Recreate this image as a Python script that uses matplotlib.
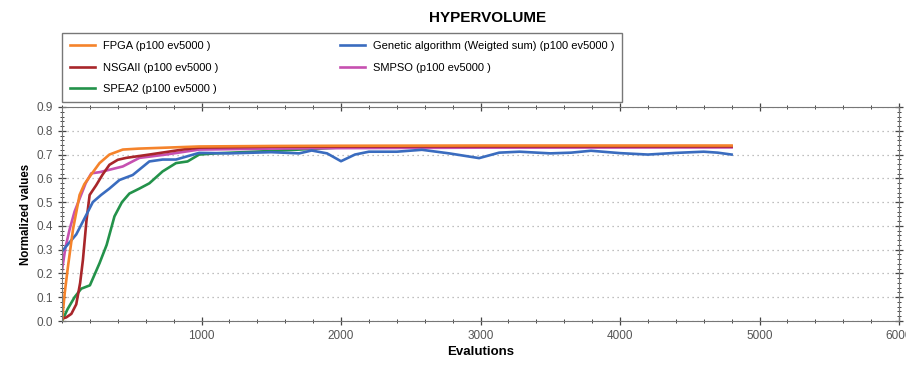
from matplotlib import pyplot as plt
from matplotlib.ticker import MultipleLocator, FixedLocator
import numpy as np

plt.rcParams['font.family'] = ['Liberation Sans', 'DejaVu Sans']

# datos (evaluaciones, hipervolumen normalizado)
fpga_x = [0, 20, 43, 79, 126, 160, 198, 269, 340, 436, 550, 745, 983, 1500, 2000, 3000, 4000, 4800]
fpga_y = [0.0, 0.12, 0.23, 0.386, 0.53, 0.575, 0.607, 0.664, 0.70, 0.721, 0.725, 0.729, 0.734, 0.736, 0.737, 0.738, 0.738, 0.738]

nsga_x = [0, 30, 67, 102, 130, 150, 175, 198, 245, 290, 340, 400, 460, 626, 864, 983, 1500, 2500, 4800]
nsga_y = [0.01, 0.015, 0.03, 0.07, 0.16, 0.257, 0.42, 0.53, 0.571, 0.615, 0.657, 0.678, 0.686, 0.70, 0.721, 0.729, 0.733, 0.734, 0.734]

spea_x = [0, 40, 90, 138, 200, 269, 320, 376, 430, 483, 555, 626, 721, 817, 900, 983, 1100, 1500, 2000, 3000, 4800]
spea_y = [0.0, 0.05, 0.1, 0.136, 0.15, 0.243, 0.32, 0.44, 0.50, 0.536, 0.557, 0.579, 0.629, 0.664, 0.671, 0.70, 0.705, 0.715, 0.73, 0.733, 0.733]

ga_x = [0, 102, 160, 221, 280, 340, 412, 507, 626, 721, 817, 983, 1200, 1500, 1700, 1790, 1900, 2000, 2100, 2200,
        2400, 2580, 2775, 2990, 3134, 3280, 3500, 3650, 3792, 4000, 4200, 4400, 4600, 4700, 4800]
ga_y = [0.293, 0.364, 0.43, 0.50, 0.53, 0.557, 0.593, 0.614, 0.671, 0.679, 0.679, 0.707, 0.705, 0.71, 0.705, 0.717, 0.705, 0.672, 0.700, 0.712,
        0.712, 0.72, 0.705, 0.685, 0.708, 0.712, 0.705, 0.708, 0.716, 0.706, 0.700, 0.707, 0.712, 0.708, 0.700]

smpso_x = [0, 25, 55, 90, 126, 170, 210, 270, 340, 436, 555, 745, 983, 1500, 2000, 3000, 4800]
smpso_y = [0.214, 0.31, 0.386, 0.46, 0.514, 0.58, 0.621, 0.626, 0.636, 0.65, 0.686, 0.70, 0.721, 0.725, 0.727, 0.729, 0.73]

series = [
    ('FPGA (p100 ev5000 )', fpga_x, fpga_y, '#f5832b'),
    ('NSGAII (p100 ev5000 )', nsga_x, nsga_y, '#a8262a'),
    ('SPEA2 (p100 ev5000 )', spea_x, spea_y, '#23924a'),
    ('Genetic algorithm (Weigted sum) (p100 ev5000 )', ga_x, ga_y, '#3a6cbf'),
    ('SMPSO (p100 ev5000 )', smpso_x, smpso_y, '#c650b0'),
]
# orden de dibujo: el naranja queda encima
orden_dibujo = [2, 4, 1, 3, 0]

fig = plt.figure(figsize=(9.06, 3.65), dpi=100)
ax = fig.add_axes([62 / 906, 1 - 321 / 365, (899 - 62) / 906, (321 - 107) / 365])

lineas = {}
for i in orden_dibujo:
    nombre, xs, ys, color = series[i]
    lineas[i], = ax.plot(xs, ys, color=color, lw=1.9, label=nombre, solid_joinstyle='round')

ax.set_xlim(0, 6000)
ax.set_ylim(0, 0.9)
ax.xaxis.set_major_locator(FixedLocator([1000, 2000, 3000, 4000, 5000, 6000]))
ax.xaxis.set_minor_locator(MultipleLocator(200))
ax.yaxis.set_major_locator(MultipleLocator(0.1))
ax.yaxis.set_minor_locator(MultipleLocator(0.02))
ax.yaxis.set_major_formatter(plt.FormatStrFormatter('%.1f'))
ax.tick_params(which='both', direction='inout', top=True, right=True, colors='#444444',
               labelcolor='#555555', labelsize=8.5, labeltop=False, labelright=False)
ax.tick_params(which='major', length=6, width=0.9)
ax.tick_params(which='minor', length=3, width=0.7)
ax.grid(axis='y', linestyle=(0, (1, 3)), color='#aaaaaa', lw=0.9)
for s in ax.spines.values():
    s.set_color('#777777')

ax.set_xlabel('Evalutions', fontsize=9.5, fontweight='bold', labelpad=3)
ax.set_ylabel('Normalized values', fontsize=8.3, fontweight='bold', labelpad=3)
fig.text(488 / 906, 1 - 18 / 365, 'HYPERVOLUME', ha='center', va='center', fontsize=11, fontweight='bold')

handles = [lineas[i] for i in range(5)]
leg = fig.legend(handles=handles, loc='lower left', ncol=2, mode='expand',
                 bbox_to_anchor=(62 / 906, 1 - 102 / 365, 560 / 906, 67 / 365),
                 fontsize=8, frameon=True, fancybox=False, edgecolor='#555555',
                 handlelength=2.25, labelspacing=1.05, borderaxespad=0, handletextpad=0.7,
                 borderpad=0.7)
leg.get_frame().set_linewidth(1.0)

fig.savefig('out.png', dpi=100)
